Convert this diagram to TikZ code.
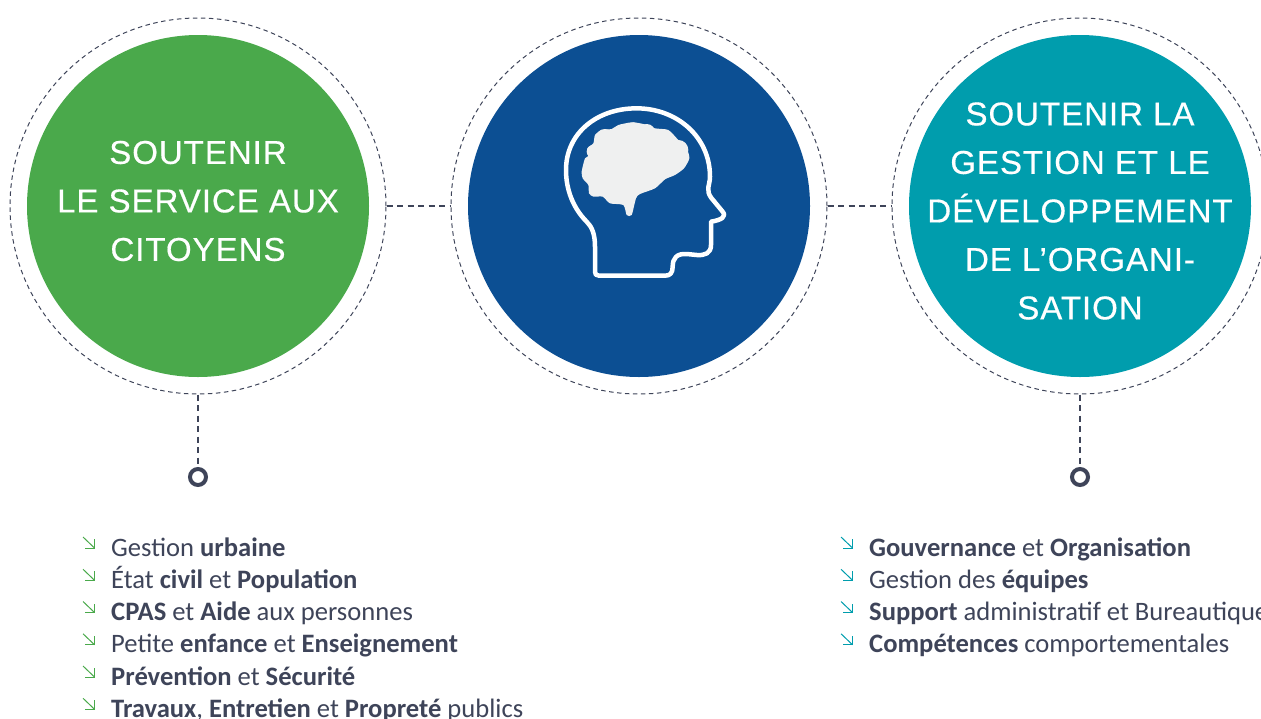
\documentclass[tikz,border=0pt]{standalone}
\usepackage{fontspec}
\setmainfont{Carlito}
\newfontfamily\headfont[LetterSpace=3,FakeBold=.5]{Liberation Sans}
\usetikzlibrary{positioning}
\definecolor{citizengreen}{HTML}{4AA94B}
\definecolor{brainblue}{HTML}{0C4F93}
\definecolor{orgteal}{HTML}{009DAD}
\definecolor{slate}{HTML}{3E4459}
\definecolor{brainfill}{HTML}{EFF0F0}
\newcommand{\itemarrow}[2]{
  \draw [#2] ([shift={(-28,-13)}]#1.west) -- ([shift={(-16.5,-2)}]#1.west);
  \draw [#2] ([shift={(-26,-2)}]#1.west) -- ([shift={(-16.5,-2)}]#1.west) -- ([shift={(-16.5,-11)}]#1.west);
}

\begin{document}
\begin{tikzpicture}
    [ x = 1pt, y = -1pt
    , ring/.style =
      { draw=slate, circle, dashed, dash pattern=on 4.5pt off 3.5pt, line width=1pt
      , minimum size=376pt, inner sep=0pt }
    , disc/.style =
      { circle, minimum size=342pt, inner sep=0pt }
    , title/.style =
      { text=white, align=center, font=\headfont\fontsize{33}{48.5}\selectfont }
    , link/.style =
      { draw=slate, dashed, dash pattern=on 6pt off 4.5pt, line width=1.1pt }
    , dot/.style =
      { draw=slate, circle, line width=4pt, minimum size=16pt, inner sep=0pt }
    , entry/.style =
      { text=slate, inner sep=0pt, text height=22pt, text depth=9.85pt
      , font=\fontsize{26.6}{30}\selectfont }
    , greentick/.style =
      { citizengreen, line width=1pt }
    , tealtick/.style =
      { orgteal, line width=1pt }
    , headline/.style =
      { white, line width=4.5pt, line join=round }
    ]
    \useasboundingbox (0,0) rectangle (1261,718);

    \node [ring] (ringleft) at (198,206) {};
    \node [ring] (ringmid) [right=64pt of ringleft] {};
    \node [ring] (ringright) [right=64pt of ringmid] {};

    \node [disc, fill=citizengreen] (discleft) at (ringleft) {};
    \node [disc, fill=brainblue] (discmid) at (ringmid) {};
    \node [disc, fill=orgteal] (discright) at (ringright) {};

    \node [title] (titleleft) [above=5pt of discleft.center, anchor=center] {SOUTENIR\\LE SERVICE AUX\\CITOYENS};
    \node [title] (titleright) [below=5pt of discright.center, anchor=center] {SOUTENIR LA\\GESTION ET LE\\DÉVELOPPEMENT\\DE L’ORGANI-\\SATION};

    \node [dot] (dotleft) [below=72.5pt of ringleft] {};
    \node [dot] (dotright) [below=72.5pt of ringright] {};

    \draw [link] (ringleft) -- (ringmid);
    \draw [link] (ringmid) -- (ringright);
    \draw [link] (ringleft) -- (dotleft);
    \draw [link] (ringright) -- (dotright);

    % head and brain, traced
    \begin{scope}[shift={(530,90)}, scale=1/3]
      \draw [headline] (195,545) -- (195,470) .. controls (195,430) and (185,410) .. (170,395)
        .. controls (130,355) and (108,300) .. (108,240)
        .. controls (108,130) and (200,55) .. (320,55)
        .. controls (440,55) and (540,140) .. (540,260)
        .. controls (540,285) and (525,300) .. (545,325)
        -- (578,365) .. controls (590,380) and (575,390) .. (543,395)
        -- (543,465) .. controls (543,490) and (525,497) .. (500,495)
        -- (470,492) .. controls (440,490) and (428,505) .. (428,530)
        .. controls (428,550) and (420,557) .. (405,557)
        -- (207,557) .. controls (198,557) and (195,553) .. (195,545) -- cycle;
      \fill [brainfill] plot [smooth cycle, tension=.4] coordinates
        { (155,245) (165,205) (180,195) (172,175) (190,160) (195,135) (215,120) (245,117)
          (265,105) (305,97) (340,102) (375,115) (415,120) (445,150) (470,175) (478,205)
          (462,235) (435,255) (405,268) (375,295) (330,312) (318,325) (305,375) (290,375)
          (280,345) (240,340) (218,320) (190,320) (177,310) (175,285) (158,265) };
      \fill [brainfill] (225,145) circle (28) (275,128) circle (24) (310,122) circle (25)
        (350,128) circle (26) (400,145) circle (27) (445,180) circle (30) (190,185) circle (20);
    \end{scope}

    % left list
    \node [entry, anchor=west] (left1) at (111,550) {Gestion \textbf{urbaine}};
    \node [entry] (left2) [below=0pt of left1.south west, anchor=north west] {État \textbf{civil} et \textbf{Population}};
    \node [entry] (left3) [below=0pt of left2.south west, anchor=north west] {\textbf{CPAS} et \textbf{Aide} aux personnes};
    \node [entry] (left4) [below=0pt of left3.south west, anchor=north west] {Petite \textbf{enfance} et \textbf{Enseignement}};
    \node [entry] (left5) [below=0pt of left4.south west, anchor=north west] {\textbf{Prévention} et \textbf{Sécurité}};
    \node [entry] (left6) [below=0pt of left5.south west, anchor=north west] {\textbf{Travaux}, \textbf{Entretien} et \textbf{Propreté} publics};
    \itemarrow{left1}{greentick}
    \itemarrow{left2}{greentick}
    \itemarrow{left3}{greentick}
    \itemarrow{left4}{greentick}
    \itemarrow{left5}{greentick}
    \itemarrow{left6}{greentick}

    % right list
    \node [entry, anchor=west] (right1) at (869,550) {\textbf{Gouvernance} et \textbf{Organisation}};
    \node [entry] (right2) [below=0pt of right1.south west, anchor=north west] {Gestion des \textbf{équipes}};
    \node [entry] (right3) [below=0pt of right2.south west, anchor=north west] {\textbf{Support} administratif et Bureautique};
    \node [entry] (right4) [below=0pt of right3.south west, anchor=north west] {\textbf{Compétences} comportementales};
    \itemarrow{right1}{tealtick}
    \itemarrow{right2}{tealtick}
    \itemarrow{right3}{tealtick}
    \itemarrow{right4}{tealtick}
\end{tikzpicture}
\end{document}
